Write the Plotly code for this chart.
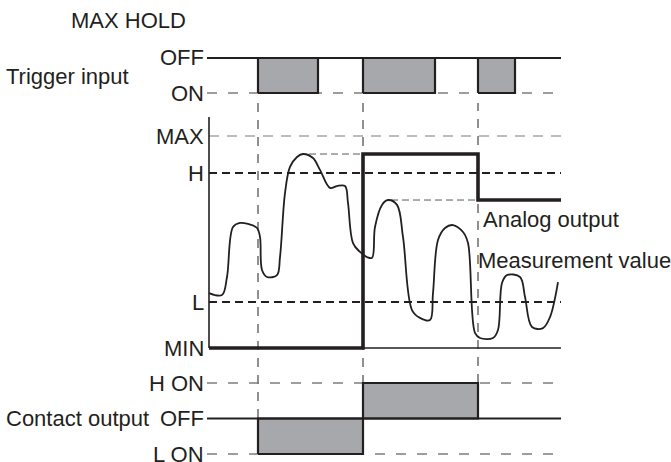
import plotly.graph_objects as go

W, H = 671, 462
INK = "#231f20"
BOX = "rgb(167,168,171)"
GREY = "rgb(125,125,125)"
FONT = "Liberation Sans, Arial, sans-serif"

# time axis, arbitrary units (0 = start of the measurement axis)
t_start, t_end = -2, 352
trigger_on = [(49, 109), (154, 226), (269, 306)]
contact_l_on = [(49, 154)]
contact_h_on = [(154, 269)]

# measurement scale: MIN = 0 ... MAX = 100
level_names = ["MAX", "H", "L", "MIN"]
level_values = [100, 82.5, 21.7, 0]
axis_top = 109

meas_t = [0, 13, 18, 24, 31, 39, 48, 51, 53, 58, 68, 71, 76, 81, 88, 94, 104, 111,
          121, 128, 136, 139, 144, 151, 158, 163, 166, 173, 179, 188, 194, 203, 211,
          221, 224, 229, 236, 244, 254, 259, 266, 271, 284, 289, 293, 298, 311, 316,
          323, 334, 341, 349]
meas_v = [25.9, 25.0, 33.5, 57.1, 59.0, 58.5, 56.6, 52.4, 36.8, 33.5, 34.4, 42.9,
          73.1, 85.4, 90.1, 91.5, 89.6, 84.0, 75.5, 76.4, 76.4, 68.4, 49.5, 45.3,
          42.9, 42.5, 57.1, 67.5, 69.8, 67.5, 52.4, 17.9, 14.2, 13.2, 25.9, 50.9,
          56.6, 58.0, 54.7, 49.5, 7.1, 4.7, 4.7, 8.5, 30.7, 34.4, 33.5, 24.1, 9.9,
          9.4, 14.6, 31.1]

analog_t = [0, 154, 154, 269, 269, 352]
analog_v = [0, 0, 91.5, 91.5, 69.8, 69.8]

hold_t = [(100, 154), (182, 269)]
hold_v = [91.5, 69.8]

trigger_levels = {"OFF": 1, "ON": 0}
contact_levels = {"H ON": 1, "OFF": 0, "L ON": -1}


def band(v_lo, px_lo, v_hi, px_hi, lo, hi):
    k = (px_hi - px_lo) / (v_hi - v_lo)
    p0 = px_lo + k * (lo - v_lo)
    p1 = px_lo + k * (hi - v_lo)
    return dict(range=[lo, hi], domain=[1 - p0 / H, 1 - p1 / H], visible=False,
                fixedrange=True)


def line(x, y, ax, color=INK, width=2, dash="solid", shape="linear"):
    return go.Scatter(x=x, y=y, yaxis=ax, mode="lines", hoverinfo="skip",
                      line=dict(color=color, width=width, dash=dash, shape=shape))


def box(t0, t1, lo, hi, ax):
    return go.Scatter(x=[t0, t0, t1, t1, t0], y=[lo, hi, hi, lo, lo], yaxis=ax,
                      mode="lines", fill="toself", fillcolor=BOX, hoverinfo="skip",
                      line=dict(color=INK, width=2.2))


fig = go.Figure()

# trigger input
fig.add_trace(line([t_start, t_end], [0, 0], "y2", GREY, 1.3, "10px,11px"))
for t0, t1 in trigger_on:
    fig.add_trace(box(t0, t1, 0, 1, "y2"))
fig.add_trace(line([t_start, t_end], [1, 1], "y2", INK, 2))

# measurement / analog output
fig.add_trace(line([t_start + 2, t_end], [100, 100], "y", GREY, 1.1, "10px,8px"))
fig.add_trace(line([0, t_end], [82.5, 82.5], "y", INK, 2, "8px,5px"))
fig.add_trace(line([0, t_end], [21.7, 21.7], "y", INK, 2, "8px,5px"))
fig.add_trace(line([0, t_end], [0, 0], "y", INK, 1.3))
for (t0, t1), v in zip(hold_t, hold_v):
    fig.add_trace(line([t0, t1], [v, v], "y", "rgb(70,70,70)", 0.9, "7px,4px"))
fig.add_trace(line([0, 0], [0, axis_top], "y", INK, 1.6))
fig.add_trace(line(meas_t, meas_v, "y", INK, 1.8, shape="spline"))
fig.add_trace(line(analog_t, analog_v, "y", INK, 3.6))

# contact output
fig.add_trace(line([t_start, t_end], [1, 1], "y3", GREY, 1.3, "10px,11px"))
fig.add_trace(line([t_start, t_end], [-1, -1], "y3", GREY, 1.3, "10px,11px"))
for t0, t1 in contact_l_on:
    fig.add_trace(box(t0, t1, -1, 0, "y3"))
for t0, t1 in contact_h_on:
    fig.add_trace(box(t0, t1, 0, 1, "y3"))
fig.add_trace(line([t_start, t_end], [0, 0], "y3", INK, 2))

# vertical guide lines at the switching instants
v_top = 1 - 103 / H
for t, bottom_px in [(49, 418), (154, 418), (269, 383)]:
    fig.add_shape(type="line", xref="x", yref="paper", x0=t, x1=t, y0=1 - bottom_px / H,
                  y1=v_top, layer="below", line=dict(color=INK, width=1, dash="9px,8px"))

ann = []


def label(text, y, ax, x=-3, xanchor="right", xref="x"):
    ann.append(dict(text=text, x=x, y=y, xref=xref, yref=ax, xanchor=xanchor,
                    yanchor="middle", showarrow=False,
                    font=dict(family=FONT, size=22, color=INK)))


for name, v in trigger_levels.items():
    label(name, v, "y2")
for name, v in zip(level_names, level_values):
    label(name, v, "y")
for name, v in contact_levels.items():
    label(name, v, "y3")
label("MAX HOLD", 1 - 21 / H, "paper", x=69 / W, xanchor="left", xref="paper")
label("Trigger input", 1 - 77 / H, "paper", x=4 / W, xanchor="left", xref="paper")
label("Contact output", 0, "y3", x=4 / W, xanchor="left", xref="paper")
label("Analog output", 1 - 219 / H, "paper", x=481 / W, xanchor="left", xref="paper")
label("Measurement value", 1 - 260 / H, "paper", x=476 / W, xanchor="left", xref="paper")

fig.update_layout(
    width=W, height=H,
    margin=dict(l=0, r=0, t=0, b=0),
    paper_bgcolor="white", plot_bgcolor="white",
    showlegend=False,
    xaxis=dict(range=[-209, W - 209], domain=[0, 1], visible=False, fixedrange=True),
    yaxis=band(0, 348, 100, 136, -5, 112),
    yaxis2=band(0, 93, 1, 58, -0.3, 1.3),
    yaxis3=band(-1, 454, 1, 383, -1.2, 1.2),
    annotations=ann,
)

# the page's default body margin would shift the 671x462 figure off the window
fig.write_html("out.html", config={"displayModeBar": False},
               post_script="document.body.style.margin='0';"
               "document.body.style.overflow='hidden';")
